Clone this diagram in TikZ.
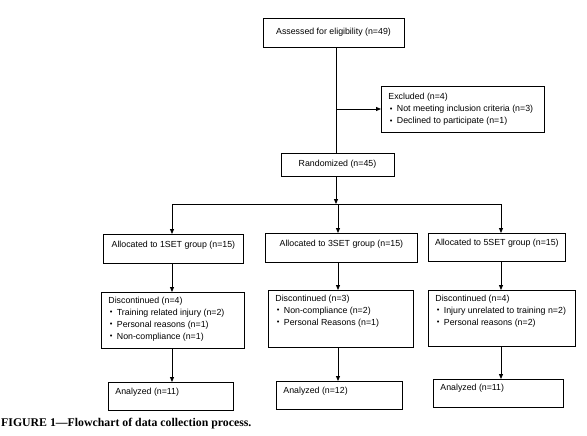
\documentclass[tikz,border=0pt]{standalone}
\usepackage{fontspec}
\setmainfont{Liberation Sans}
\newfontfamily\capfont{Liberation Serif}
\usetikzlibrary{arrows.meta}
\newcommand\bul{\makebox[7pt][l]{\raisebox{0.4pt}{\fontsize{7.5}{7.5}\selectfont •}}}
\newcommand\itm[1]{\\\hspace*{8.5pt}\bul#1}
\begin{document}
\begin{tikzpicture}[x=1pt,y=-1pt,
  box/.style={draw, line width=0.8pt, inner sep=0pt, anchor=north west, font=\fontsize{8.8}{12}\selectfont},
  cbox/.style={draw, line width=0.8pt, inner sep=0pt, font=\fontsize{8.8}{12}\selectfont},
  arr/.style={-{Triangle[length=5pt,width=4pt]}, line width=0.8pt},
  ln/.style={line width=0.8pt}]
\useasboundingbox (0,0) rectangle (587,436);
% centered boxes
\node[cbox, minimum width=141pt, minimum height=29pt] (assess) at (333.5,32.5) {Assessed for eligibility (n=49)};
\node[cbox, minimum width=113pt, minimum height=23pt] (rand) at (337.5,164.5) {Randomized (n=45)};
% excluded
\node[box] (excl) at (381,86) {\parbox[c][46pt][t]{163pt}{\vspace*{7pt}\hspace*{7pt}Excluded (n=4)\itm{Not meeting inclusion criteria (n=3)}\itm{Declined to participate (n=1)}}};
% allocation
\node[box] (a1) at (103,234) {\parbox[c][29pt][t]{140pt}{\vspace*{6.5pt}\centering Allocated to 1SET group (n=15)\par}};
\node[box] (a2) at (265,233) {\parbox[c][29pt][t]{152pt}{\vspace*{6.5pt}\centering Allocated to 3SET group (n=15)\par}};
\node[box] (a3) at (428,233) {\parbox[c][28pt][t]{137pt}{\vspace*{6pt}\centering Allocated to 5SET group (n=15)\par}};
% discontinued
\node[box] (d1) at (101,292) {\parbox[c][56pt][t]{143pt}{\vspace*{4.5pt}\hspace*{7pt}Discontinued (n=4)\itm{Training related injury (n=2)}\itm{Personal reasons (n=1)}\itm{Non-compliance (n=1)}}};
\node[box] (d2) at (268,290) {\parbox[c][57pt][t]{145pt}{\vspace*{4.5pt}\hspace*{7pt}Discontinued (n=3)\itm{Non-compliance (n=2)}\itm{Personal Reasons (n=1)}}};
\node[box] (d3) at (428,290) {\parbox[c][56pt][t]{147pt}{\vspace*{4.5pt}\hspace*{7pt}Discontinued (n=4)\itm{Injury unrelated to training n=2)}\itm{Personal reasons (n=2)}}};
% analyzed
\node[box] (n1) at (108,382) {\parbox[c][28pt][t]{125pt}{\vspace*{5.5pt}\hspace*{7pt}Analyzed (n=11)}};
\node[box] (n2) at (276,381) {\parbox[c][28pt][t]{126pt}{\vspace*{5.5pt}\hspace*{7pt}Analyzed (n=12)}};
\node[box] (n3) at (433,379) {\parbox[c][28pt][t]{130pt}{\vspace*{5pt}\hspace*{7pt}Analyzed (n=11)}};
% caption
\node[anchor=base west, inner sep=0pt] (cap) at (1,426) {\capfont\bfseries\fontsize{11.8}{13}\selectfont FIGURE 1—Flowchart of data collection process.};
% connector coordinates
\coordinate (trunk) at (336,0);
\coordinate (br) at (336,109);
\coordinate (split) at (336,204);
\coordinate (c1) at (172,0);
\coordinate (c2) at (338,0);
\coordinate (c3) at (501,0);
% connectors
\draw[ln] (assess.south -| trunk) -- (rand.north -| trunk);
\draw[arr] (br) -- (br -| excl.west);
\draw[arr] (rand.south -| trunk) -- (split);
\draw[ln] (split -| c1) -- (split -| c3);
\draw[arr] (split -| c1) -- (a1.north -| c1);
\draw[arr] (split -| c2) -- (a2.north -| c2);
\draw[arr] (split -| c3) -- (a3.north -| c3);
\draw[arr] (a1.south -| c1) -- (d1.north -| c1);
\draw[arr] (a2.south -| c2) -- (d2.north -| c2);
\draw[arr] (a3.south -| c3) -- (d3.north -| c3);
\draw[arr] (d1.south -| c1) -- (n1.north -| c1);
\draw[arr] (d2.south -| c2) -- (n2.north -| c2);
\draw[arr] (d3.south -| c3) -- (n3.north -| c3);
\end{tikzpicture}
\end{document}
